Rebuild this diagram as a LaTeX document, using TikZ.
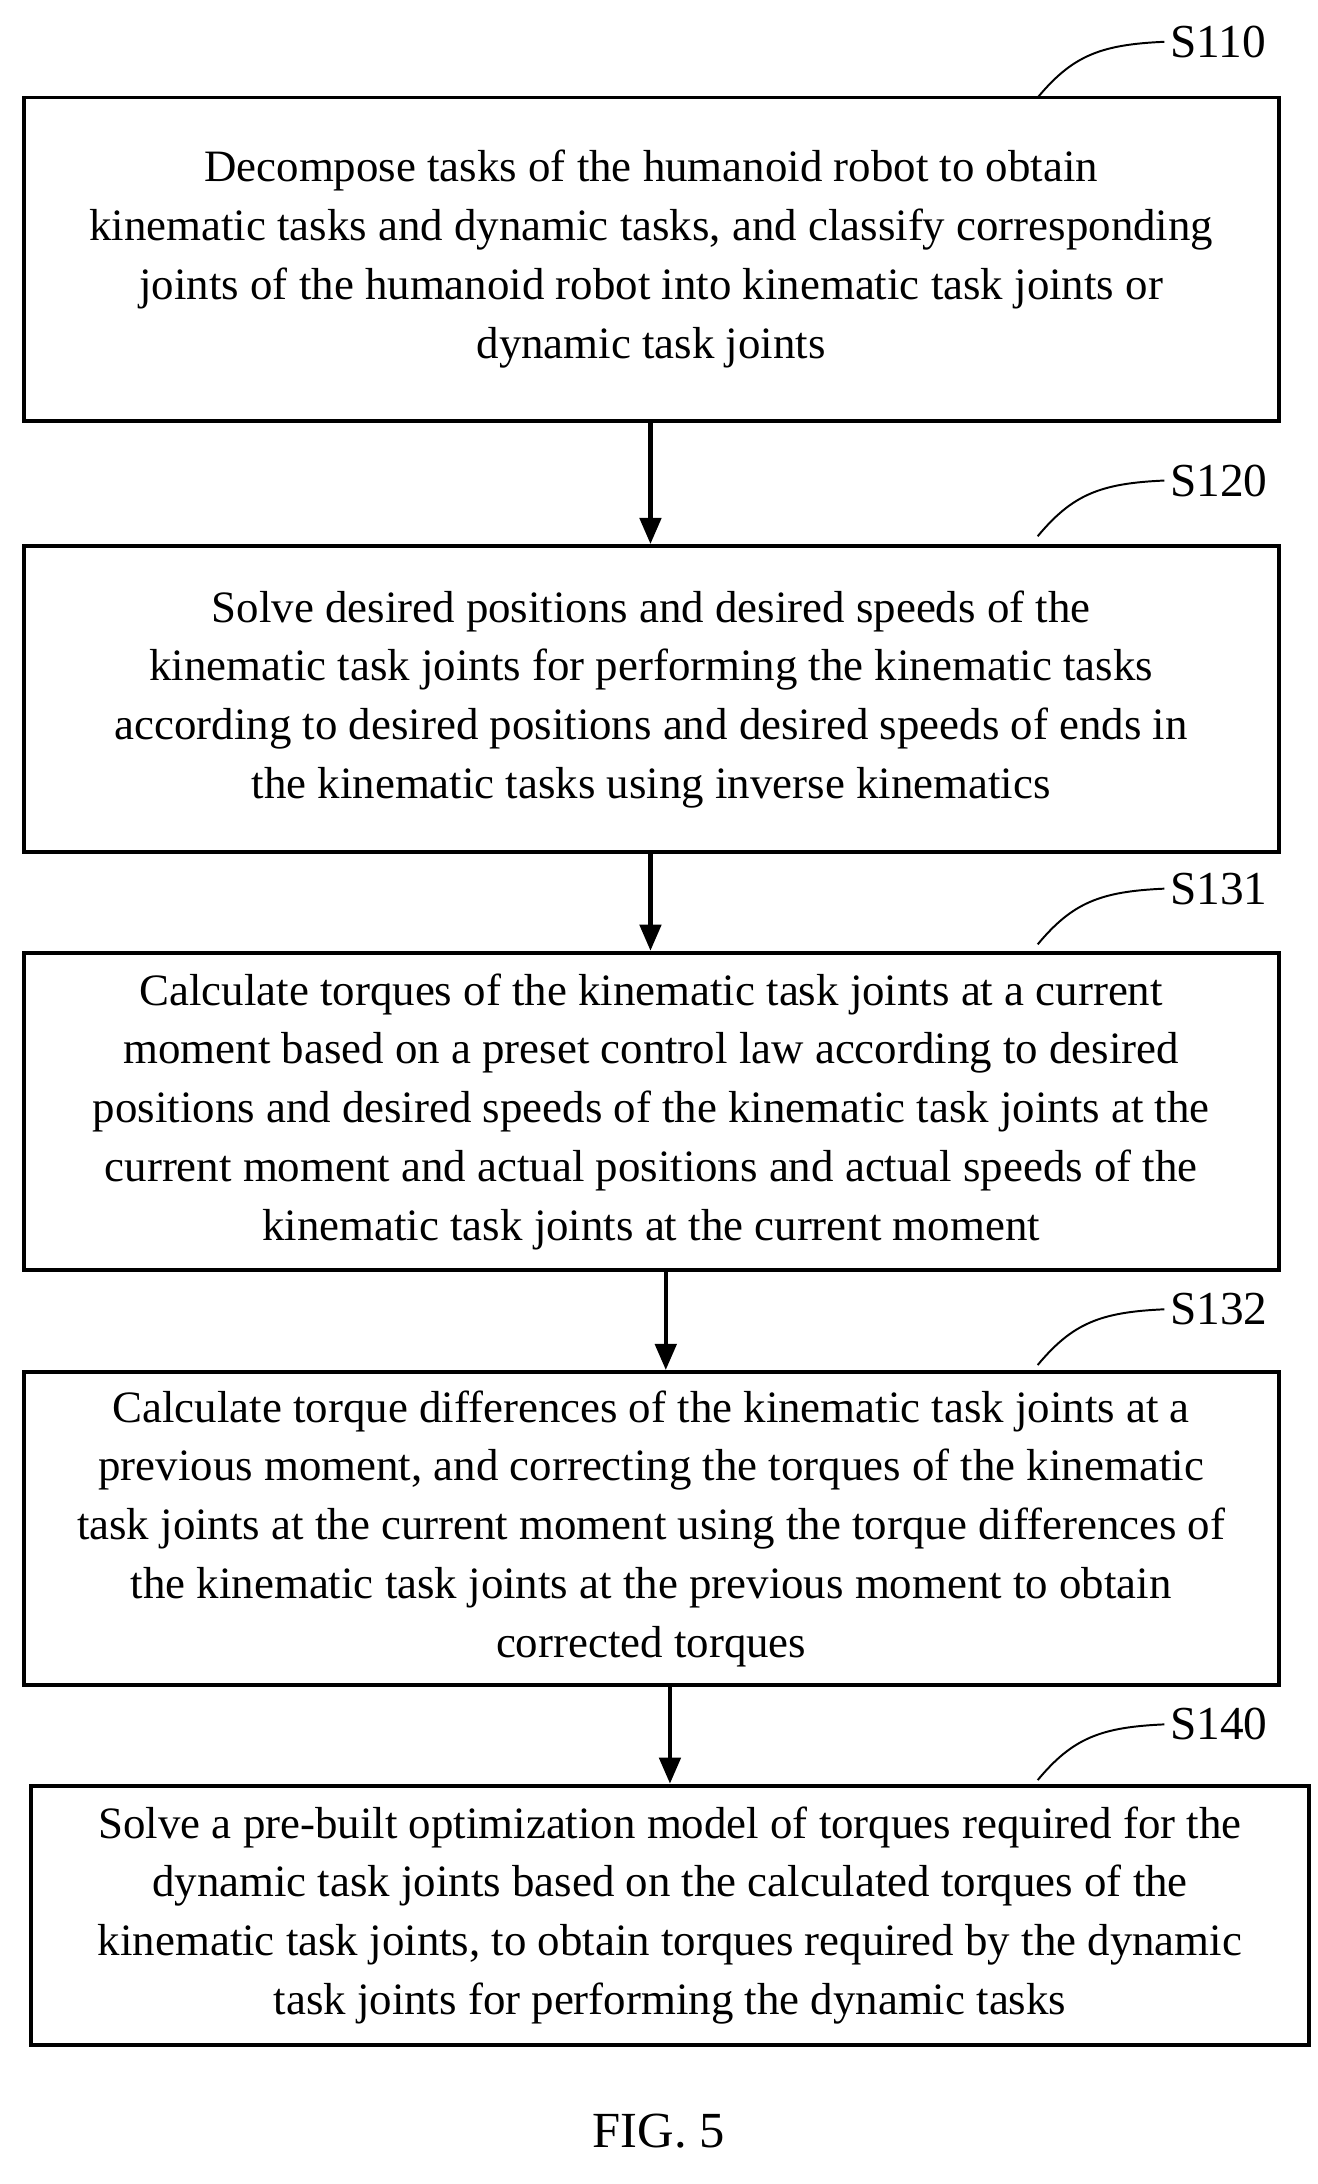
\documentclass[tikz,border=0pt]{standalone}
\usepackage{fontspec}
\setmainfont{Liberation Serif}
\usetikzlibrary{arrows.meta,positioning}
\tikzset{
  stepbox/.style={draw, line width=2.4pt, align=center, inner sep=0pt,
    font=\fontsize{27.5}{36}\selectfont},
  steplabel/.style={font=\fontsize{29}{30}\selectfont, anchor=west},
  flow/.style={-{Triangle[length=16pt,width=13pt]}, line width=2.6pt},
  tag/.style={line width=1.2pt}
}
\begin{document}
\begin{tikzpicture}[x=0.03cm,y=-0.03cm]
\useasboundingbox (0,0) rectangle (946,1568);
% boxes
\node[stepbox, minimum width=27.03cm, minimum height=6.96cm] (s110) at (467.5,186)
  {Decompose tasks of the humanoid robot to obtain\\kinematic tasks and dynamic tasks, and classify corresponding\\joints of the humanoid robot into kinematic task joints or\\dynamic task joints};
\node[stepbox, minimum width=27.03cm, minimum height=6.6cm] (s120) at (467.5,502)
  {Solve desired positions and desired speeds of the\\kinematic task joints for performing the kinematic tasks\\according to desired positions and desired speeds of ends in\\the kinematic tasks using inverse kinematics};
\node[stepbox, minimum width=27.03cm, minimum height=6.84cm] (s131) at (467.5,798)
  {Calculate torques of the kinematic task joints at a current\\moment based on a preset control law according to desired\\positions and desired speeds of the kinematic task joints at the\\current moment and actual positions and actual speeds of the\\kinematic task joints at the current moment};
\node[stepbox, minimum width=27.03cm, minimum height=6.75cm] (s132) at (467.5,1097.5)
  {Calculate torque differences of the kinematic task joints at a\\previous moment, and correcting the torques of the kinematic\\task joints at the current moment using the torque differences of\\the kinematic task joints at the previous moment to obtain\\corrected torques};
\node[stepbox, minimum width=27.54cm, minimum height=5.58cm] (s140) at (481,1375)
  {Solve a pre-built optimization model of torques required for the\\dynamic task joints based on the calculated torques of the\\kinematic task joints, to obtain torques required by the dynamic\\task joints for performing the dynamic tasks};
% arrows
\draw[flow] (s110.south -| 467,0) -- (s120.north -| 467,0);
\draw[flow] (s120.south -| 467,0) -- (s131.north -| 467,0);
\draw[flow] (s131.south -| 478,0) -- (s132.north -| 478,0);
\draw[flow] (s132.south -| 481,0) -- (s140.north -| 481,0);
% step labels
\foreach \n/\t/\y in {l110/S110/30, l120/S120/345, l131/S131/638, l132/S132/940, l140/S140/1238}{
  \node[steplabel] (\n) at (836,\y) {\t};
  \draw[tag] (745,\y+40) .. controls (770,\y+10) and (790,\y+2) .. (\n.west);
}
\node[font=\fontsize{31}{32}\selectfont] (fig) at (473,1530) {FIG. 5};
\end{tikzpicture}
\end{document}
